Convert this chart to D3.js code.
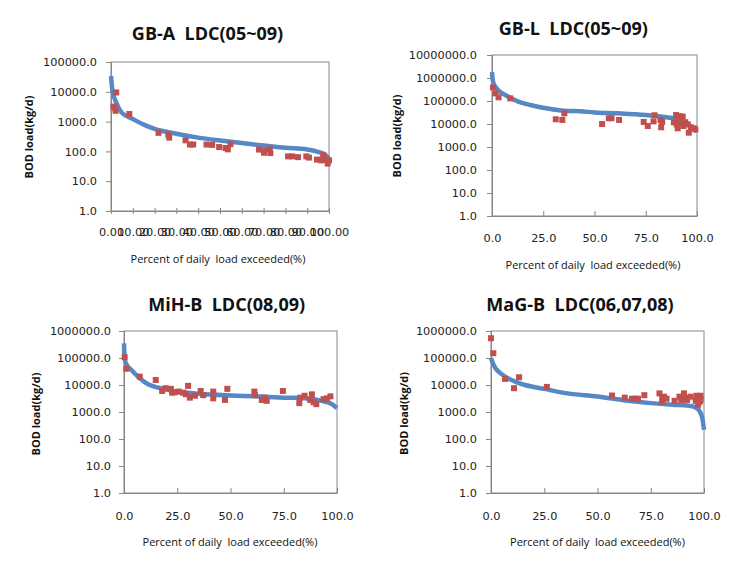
<!DOCTYPE html>
<html><head><meta charset="utf-8">
<script src="https://cdn.jsdelivr.net/npm/d3@7"></script>
<style>
body{margin:0;background:#fff;}
svg{display:block;}
text{white-space:pre;}
</style></head>
<body>
<svg id="c" width="737" height="567"></svg>
<script>
// ---------- Data ----------
const panelTitles = ["GB-A  LDC(05~09)", "GB-L  LDC(05~09)", "MiH-B  LDC(08,09)", "MaG-B  LDC(06,07,08)"];
const yAxisTitle = "BOD load(kg/d)";
const xAxisTitle = "Percent of daily  load exceeded(%)";
const yMaxExp = [5, 7, 6, 6];
const xTickValues1 = [0,10,20,30,40,50,60,70,80,90,100];
const xTickValues = [0,25,50,75,100];

// GB-A
const gbaCurveX = [0,0.7,2.6,4.9,10,15,20,30,40,50,60,70,80,90,95,98,100];
const gbaCurveY = [34000,10700,4000,2000,1230,790,570,390,290,232,190,158,132,116,96,80,57];
const gbaObsX = [2.4,1.1,1.8,2.1,8.4,21.8,26.3,26.7,34.2,36.2,37.7,43.8,46.4,49.6,52.5,53.6,54.8,67.9,70.1,70.2,72.8,73.1,81.2,83.1,85.8,89.6,90.8,94.5,96.5,97.3,98.8,99.4,100];
const gbaObsY = [9500,3200,2900,2300,1800,420,370,290,235,170,170,170,165,140,130,117,175,115,107,90,118,88,68,68,64,68,62,53,50,76,53,39,50];

// GB-L
const gblCurveX = [0,0.5,1.6,4,7.3,12,18.6,25,35,43,50,62,75,85,91.4,96,100];
const gblCurveY = [1800000,690000,420000,250000,165000,102000,67000,51000,38000,35500,32000,29000,24500,19500,16000,9000,4700];
const gblObsX = [0.5,1.6,3.2,8.9,31.1,34.3,35.3,53.7,57,58.3,62,74,76,79.3,78.8,82.2,82.5,83,88.7,89.8,90.1,90.6,91.4,91.9,92.2,93,93.4,94.3,95.5,96,97,98.4,99.2,92.8,90.9];
const gblObsY = [390000,215000,145000,130000,16000,15000,29000,10000,17800,17800,15000,12300,8200,24000,13000,15000,7200,12300,11800,24500,9600,6500,22000,15000,10500,21000,8200,12000,9600,4200,7200,6500,5800,17000,13500];

// MiH-B
const mihCurveX = [0,0.3,1.1,3.5,7.4,11.3,16,20.7,25,35,50,61.5,75,85,93,97.6,100];
const mihCurveY = [350000,98000,59000,36000,17800,10700,8000,6600,5700,4700,4070,3800,3400,3200,2570,1950,1390];
const mihObsX = [0.3,1.1,7.4,14.9,17.9,19.5,22,22.6,23.9,25.7,27.8,29,30.1,30.9,33.3,36,37.2,41.9,41.9,47.4,48.5,61.2,61.5,64.7,65.9,67,74.6,82.3,82.7,84.8,87.4,88.2,89,90.3,93.7,95.3,96.9];
const mihObsY = [107000,40000,20400,15400,6000,7600,7200,5200,5400,5700,5200,4570,9300,3400,4000,6000,4200,5700,3200,2800,7200,5700,4200,2800,3400,2600,6000,2130,3400,4000,2800,4500,2300,1950,3000,3200,3800];

// MaG-B
const magCurveX = [0,1.1,1.9,3.5,6.6,11.3,16,25,35,50,61.5,75,85,93,96,98,99.2,100];
const magCurveY = [98000,59000,44000,31500,20400,13400,10000,7200,5000,3730,2800,2130,1850,1700,1480,1050,590,220];
const magObsX = [0,1.1,6.6,10.8,13.2,26.2,56.8,62.8,66.2,67.8,69,72,79.1,80.4,81.2,82.4,80.4,86.2,88.5,89.3,90.6,91.1,92.1,93.7,96.1,96.5,97.2,98.4,98.4,98];
const magObsY = [540000,150000,16800,7600,19400,8500,4070,3400,3100,3100,3100,4200,4900,3100,3700,3100,2400,2600,3700,2800,4900,3300,2800,3700,2600,4000,1850,4000,2800,2400];

const curvesX = [gbaCurveX, gblCurveX, mihCurveX, magCurveX];
const curvesY = [gbaCurveY, gblCurveY, mihCurveY, magCurveY];
const obsX = [gbaObsX, gblObsX, mihObsX, magObsX];
const obsY = [gbaObsY, gblObsY, mihObsY, magObsY];

// ---------- Layout ----------
const boxes = [
  {l:111, r:329, t:62, b:211, title:[207.5,39.5], ytitle:[33,137], xtitle:[218,262.5], xlab:25, ylabGap:14, xticksCross:true},
  {l:492, r:697, t:55, b:216, title:[573.3,35], ytitle:[401,136], xtitle:[593,269], xlab:25.5, ylabGap:15},
  {l:124, r:337, t:331, b:493, title:[226.7,310.5], ytitle:[40,414], xtitle:[230,546], xlab:27, ylabGap:13},
  {l:491, r:704, t:331, b:493, title:[580,310.5], ytitle:[408,413.5], xtitle:[597.5,546], xlab:27, ylabGap:14}
];

const svg = d3.select("#c");
const axisColor = "#868686";
const lineColor = "#5588c4";
const markColor = "#c0504d";

boxes.forEach((bx, i) => {
  const x = d3.scaleLinear().domain([0,100]).range([bx.l, bx.r]);
  const y = d3.scaleLog().domain([1, Math.pow(10, yMaxExp[i])]).range([bx.b, bx.t]);
  const g = svg.append("g");

  g.append("rect").attr("x", bx.l).attr("y", bx.t).attr("width", bx.r-bx.l).attr("height", bx.b-bx.t)
    .attr("fill", "none").attr("stroke", axisColor).attr("stroke-width", 1);

  const yt = d3.range(0, yMaxExp[i]+1).map(e => Math.pow(10, e));
  const yAx = g.append("g").attr("transform", `translate(${bx.l},0)`)
    .call(d3.axisLeft(y).tickValues(yt).tickFormat(d3.format(".1f")).tickSize(5).tickPadding(bx.ylabGap-5));
  yAx.select(".domain").attr("stroke", axisColor);
  yAx.selectAll(".tick line").attr("stroke", axisColor);
  yAx.selectAll("text").attr("font-family", "DejaVu Sans").attr("font-size", "11.3px").attr("fill", "#222");

  const xtv = i === 0 ? xTickValues1 : xTickValues;
  const xAx = g.append("g").attr("transform", `translate(0,${bx.b})`)
    .call(d3.axisBottom(x).tickValues(xtv).tickFormat(d3.format(i === 0 ? ".2f" : ".1f")).tickSizeOuter(0).tickSizeInner(0).tickPadding(bx.xlab-8));
  xAx.select(".domain").attr("stroke", axisColor);
  xAx.selectAll(".tick line").attr("stroke", axisColor).attr("y1", bx.xticksCross ? -3 : -5).attr("y2", bx.xticksCross ? 3 : 0);
  xAx.selectAll("text").attr("font-family", "DejaVu Sans").attr("font-size", "11.3px").attr("fill", "#222");

  const pts = curvesX[i].map((v, k) => [x(v), y(curvesY[i][k])]);
  g.append("path").datum(pts)
    .attr("d", d3.line().curve(d3.curveMonotoneX))
    .attr("fill", "none").attr("stroke", lineColor).attr("stroke-width", 4.5).attr("stroke-linejoin", "round");

  const s = 6;
  g.selectAll("rect.obs").data(obsX[i].map((v, k) => [v, obsY[i][k]])).enter()
    .append("rect").attr("class", "obs")
    .attr("x", d => x(d[0]) - s/2).attr("y", d => y(d[1]) - s/2)
    .attr("width", s).attr("height", s).attr("fill", markColor);

  svg.append("text").attr("x", bx.title[0]).attr("y", bx.title[1]).attr("text-anchor", "middle")
    .attr("font-family", "Open Sans").attr("font-weight", "bold").attr("font-size", "18px").attr("fill", "#111")
    .text(panelTitles[i]);
  svg.append("text").attr("transform", `translate(${bx.ytitle[0]},${bx.ytitle[1]}) rotate(-90)`)
    .attr("text-anchor", "middle")
    .attr("font-family", "Open Sans").attr("font-weight", "bold").attr("font-size", "11px").attr("fill", "#111")
    .text(yAxisTitle);
  svg.append("text").attr("x", bx.xtitle[0]).attr("y", bx.xtitle[1]).attr("text-anchor", "middle")
    .attr("font-family", "Open Sans").attr("font-size", "11px").attr("fill", "#111")
    .text(xAxisTitle);
});
</script>
</body></html>
